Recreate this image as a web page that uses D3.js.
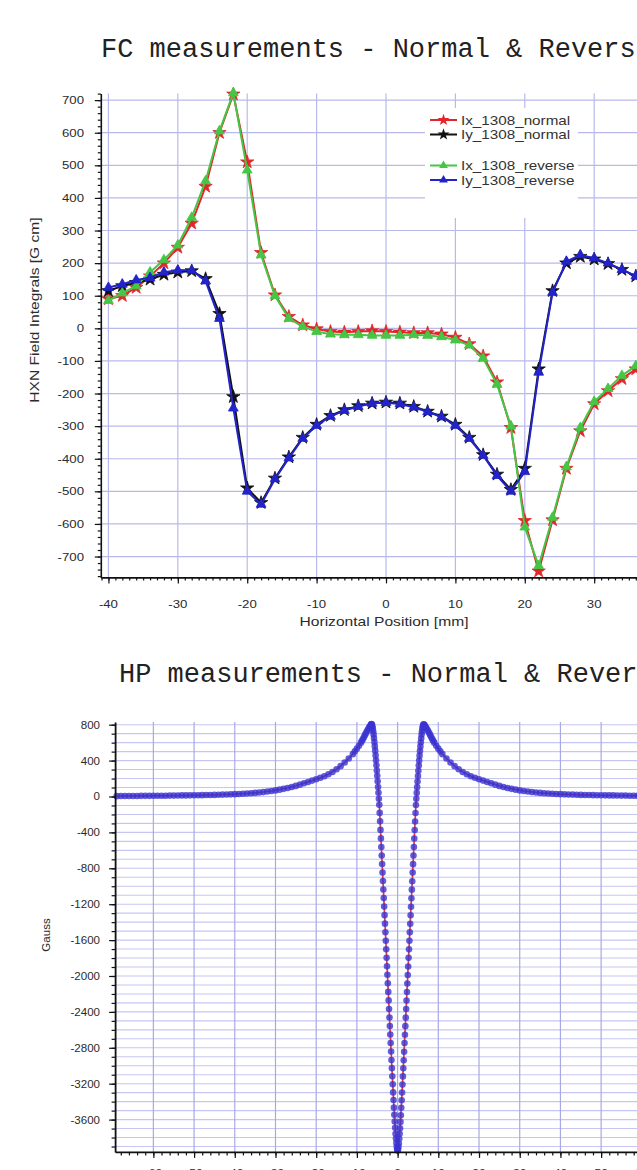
<!DOCTYPE html>
<html><head><meta charset="utf-8">
<script src="https://cdn.jsdelivr.net/npm/d3@7"></script>
<style>html,body{margin:0;padding:0;background:#fff;overflow:hidden}svg{display:block}</style>
</head><body>
<svg id="c" width="637" height="1170"></svg>
<script>
// ---------------- FC data ----------------
const fcX = [-40,-38,-36,-34,-32,-30,-28,-26,-24,-22,-20,-18,-16,-14,-12,-10,-8,-6,-4,-2,0,2,4,6,8,10,12,14,16,18,20,22,24,26,28,30,32,34,36,38,40];
const ixNormal  = [90,100,125,160,200,248,322,435,600,718,510,232,102,36,10,-2,-10,-12,-10,-8,-10,-12,-14,-14,-18,-28,-48,-85,-165,-305,-590,-745,-588,-430,-315,-232,-192,-155,-125,-103,-88];
const iyNormal  = [115,130,140,150,165,172,176,152,45,-210,-490,-535,-460,-395,-335,-295,-268,-250,-238,-230,-227,-230,-240,-255,-270,-295,-335,-388,-448,-495,-430,-125,115,200,220,212,198,180,160,148,135];
const ixReverse = [85,108,130,172,210,255,340,452,605,722,485,225,100,30,5,-10,-18,-20,-20,-22,-22,-22,-20,-22,-26,-36,-52,-92,-172,-300,-610,-728,-580,-425,-305,-225,-185,-145,-115,-96,-82];
const iyReverse = [125,135,148,155,172,178,178,145,30,-245,-500,-540,-462,-398,-338,-298,-270,-252,-240,-230,-228,-232,-242,-256,-272,-298,-338,-390,-452,-500,-440,-135,110,205,225,215,200,180,160,150,140];
const fcNames = ["Ix_1308_normal","Iy_1308_normal","Ix_1308_reverse","Iy_1308_reverse"];
const fcXTicks = [-40,-30,-20,-10,0,10,20,30,40];
const fcYTicks = [700,600,500,400,300,200,100,0,-100,-200,-300,-400,-500,-600,-700];

// ---------------- HP data ----------------
const hpX = [
-69,-68,-67,-66,-65,-64,-63,-62,-61,-60,-59,-58,-57,-56,-55,-54,-53,-52,-51,-50,
-49,-48,-47,-46,-45,-44,-43,-42,-41,-40,-39,-38,-37,-36,-35,-34,-33,-32,-31,-30,
-29,-28,-27,-26,-25,-24,-23,-22,-21,-20,-19,-18,-17,-16,-15,-14,-13,-12,-11,
-10.5,-10,-9.5,-9,-8.75,-8.5,-8.25,-8,-7.75,-7.5,-7.25,-7,-6.8,-6.6,
-6.5,-6.4,-6.3,-6.2,-6.1,-6,-5.9,-5.8,-5.7,-5.6,-5.5,-5.4,-5.3,-5.2,-5.1,-5,-4.9,-4.8,-4.7,-4.6,
-4.5,-4.4,-4.3,-4.2,-4.1,-4,-3.9,-3.8,-3.7,-3.6,-3.5,-3.4,-3.3,-3.2,-3.1,-3,-2.9,-2.8,-2.7,-2.6,
-2.5,-2.4,-2.3,-2.2,-2.1,-2,-1.9,-1.8,-1.7,-1.6,-1.5,-1.4,-1.3,-1.2,-1.1,-1,-0.9,-0.8,-0.7,-0.6,
-0.5,-0.4,-0.3,-0.2,-0.1,0,
0.1,0.2,0.3,0.4,0.5,0.6,0.7,0.8,0.9,1,1.1,1.2,1.3,1.4,1.5,1.6,1.7,1.8,1.9,2,
2.1,2.2,2.3,2.4,2.5,2.6,2.7,2.8,2.9,3,3.1,3.2,3.3,3.4,3.5,3.6,3.7,3.8,3.9,4,
4.1,4.2,4.3,4.4,4.5,4.6,4.7,4.8,4.9,5,5.1,5.2,5.3,5.4,5.5,5.6,5.7,5.8,5.9,6,
6.1,6.2,6.3,6.4,6.5,
6.6,6.8,7,7.25,7.5,7.75,8,8.25,8.5,8.75,9,9.5,10,10.5,
11,12,13,14,15,16,17,18,19,20,21,22,23,24,25,26,27,28,29,30,
31,32,33,34,35,36,37,38,39,40,41,42,43,44,45,46,47,48,49,50,
51,52,53,54,55,56,57,58,59,60,61,62,63,64,65,66,67,68,69];
const hpNormal = [
5,5,6,6,6,7,7,7,8,8,9,9,10,10,11,11,12,13,13,14,
15,16,17,18,19,20,22,23,25,27,29,31,34,37,41,45,50,56,62,70,
78,87,97,108,120,134,149,163,178,193,209,227,249,275,305,340,380,425,475,
505,535,567,602,622,643,665,688,710,732,752,770,784,796,
805,808,800,785,760,730,695,655,610,565,515,462,408,352,295,236,175,112,48,-18,
-86,-176,-270,-365,-460,-555,-650,-745,-840,-935,-1030,-1118,-1220,-1322,-1410,-1505,-1594,-1695,-1790,-1885,
-1980,-2081,-2170,-2265,-2352,-2455,-2550,-2645,-2747,-2835,-2930,-3026,-3110,-3200,-3290,-3375,-3460,-3540,-3615,-3685,
-3750,-3805,-3855,-3895,-3925,-3940,
-3928,-3900,-3860,-3808,-3752,-3690,-3620,-3545,-3462,-3378,-3292,-3204,-3113,-3022,-2932,-2838,-2742,-2648,-2553,-2458,
-2362,-2268,-2172,-2078,-1983,-1888,-1792,-1697,-1602,-1508,-1412,-1318,-1222,-1128,-1032,-938,-842,-748,-652,-558,
-462,-368,-272,-178,-88,-20,46,110,173,234,293,350,406,460,513,563,608,653,693,728,
758,783,799,806,804,
796,784,770,752,732,710,688,665,643,622,602,567,535,505,
475,425,380,340,305,275,249,227,209,193,178,163,149,134,120,108,97,87,78,70,
62,56,50,45,41,37,34,31,29,27,25,23,22,20,19,18,17,16,15,14,
13,13,12,11,11,10,10,9,9,8,8,7,7,7,6,6,6,5,5];
const hpReverse = [
4,5,5,6,6,6,7,7,7,8,8,9,9,10,10,11,12,12,13,14,
14,15,16,17,18,20,21,23,24,26,28,31,33,36,40,44,49,55,61,68,
76,85,95,106,118,132,147,162,177,192,208,226,247,273,303,338,378,423,472,
503,533,565,600,620,641,663,686,708,730,750,768,782,794,
803,806,799,783,758,727,692,652,607,561,511,458,403,347,290,230,169,106,42,-25,
-93,-183,-277,-372,-467,-562,-657,-752,-847,-942,-1037,-1132,-1227,-1322,-1417,-1512,-1607,-1702,-1797,-1892,
-1987,-2082,-2177,-2272,-2367,-2462,-2557,-2652,-2747,-2842,-2937,-3027,-3117,-3207,-3297,-3382,-3467,-3547,-3622,-3692,
-3757,-3812,-3862,-3902,-3932,-3945,
-3935,-3906,-3866,-3814,-3758,-3696,-3626,-3551,-3468,-3384,-3298,-3210,-3119,-3028,-2938,-2844,-2748,-2654,-2559,-2464,
-2368,-2274,-2178,-2084,-1989,-1894,-1798,-1703,-1608,-1514,-1418,-1324,-1228,-1134,-1038,-944,-848,-754,-658,-564,
-468,-374,-278,-184,-94,-26,40,104,167,228,287,344,400,455,508,558,604,649,690,725,
756,781,797,804,802,
794,782,768,750,730,708,686,663,641,620,600,565,533,503,
472,423,378,338,303,273,247,226,208,192,177,162,147,132,118,106,95,85,76,68,
61,55,49,44,40,36,33,31,28,26,24,23,21,20,18,17,16,15,14,14,
13,12,12,11,10,10,9,9,8,8,7,7,7,6,6,6,5,5,4];
const hpXTicks = [-60,-50,-40,-30,-20,-10,0,10,20,30,40,50,60];
const hpYTicks = [800,400,0,-400,-800,-1200,-1600,-2000,-2400,-2800,-3200,-3600];

// ---------------- drawing ----------------
const SANS = "'Liberation Sans', Arial, sans-serif";
const MONO = "'Liberation Mono', 'Courier New', monospace";
const W = 637;
const svg = d3.select('#c');

function txt(parent, data, fx, fy, ftext, o) {
  return parent.append('g').selectAll('text').data(data).join('text')
    .attr('transform', (d, i) => `translate(${fx(d, i)},${fy(d, i)})` + (o.rot ? ` rotate(${o.rot})` : '') + ` scale(${o.sx || 1},1)`)
    .attr('text-anchor', o.anchor || 'start')
    .attr('font-family', o.font || SANS)
    .attr('font-size', o.size)
    .attr('fill', o.fill || '#2b2b2b')
    .text(ftext);
}
function styleAxis(g, w) {
  g.select('.domain').attr('stroke', '#111').attr('stroke-width', w || 1.6);
  g.selectAll('.tick line').attr('stroke', '#111').attr('stroke-width', 1.2);
}

// ===== FC chart =====
const fx = d3.scaleLinear().domain([-41.1, 41.1]).range([100.8, 671.2]);
const fy = d3.scaleLinear().domain([-764, 720]).range([577.4, 93.6]);

txt(svg, ["FC measurements - Normal & Reverse"], () => 101, () => 57, d => d, {font: MONO, size: 27, fill: '#222'});

const fg = svg.append('g');
fg.selectAll('line.v').data(fcXTicks).join('line')
  .attr('x1', d => fx(d)).attr('x2', d => fx(d)).attr('y1', fy.range()[1]).attr('y2', fy.range()[0])
  .attr('stroke', '#b9b9ec').attr('stroke-width', 1.2);
fg.selectAll('line.h').data(fcYTicks).join('line')
  .attr('x1', fx.range()[0]).attr('x2', W).attr('y1', d => fy(d)).attr('y2', d => fy(d))
  .attr('stroke', '#b9b9ec').attr('stroke-width', 1.2);

const fcSeries = [
  {name: fcNames[0], vals: ixNormal,  color: '#e3262b', sym: d3.symbolStar, size: 55},
  {name: fcNames[1], vals: iyNormal,  color: '#111111', sym: d3.symbolStar, size: 55},
  {name: fcNames[2], vals: ixReverse, color: '#45c645', sym: d3.symbolTriangle, size: 42},
  {name: fcNames[3], vals: iyReverse, color: '#2323cc', sym: d3.symbolTriangle, size: 42}
];
const fLine = d3.line().x((d, i) => fx(fcX[i])).y(d => fy(d));
fcSeries.forEach(s => {
  const g = svg.append('g');
  g.append('path').attr('d', fLine(s.vals)).attr('fill', 'none').attr('stroke', s.color).attr('stroke-width', 2);
  g.selectAll('path.m').data(s.vals).join('path').attr('class', 'm')
    .attr('transform', (d, i) => `translate(${fx(fcX[i])},${fy(d)})`)
    .attr('d', d3.symbol().type(s.sym).size(s.size))
    .attr('fill', s.color).attr('stroke', s.color).attr('stroke-width', 0.8);
});

// legend
const lg = svg.append('g');
lg.append('rect').attr('x', 425).attr('y', 108).attr('width', 153).attr('height', 110).attr('fill', '#fff');
const ly = i => 120 + i * 14.5 + (i >= 2 ? 16.5 : 0);
fcSeries.forEach((s, i) => {
  lg.append('line').attr('x1', 430).attr('x2', 457).attr('y1', ly(i)).attr('y2', ly(i)).attr('stroke', s.color).attr('stroke-width', 2);
  lg.append('path').attr('transform', `translate(443.5,${ly(i)})`).attr('d', d3.symbol().type(s.sym).size(s.size * 0.8)).attr('fill', s.color);
});
txt(lg, fcSeries, () => 461, (d, i) => ly(i) + 4.5, d => d.name, {size: 12, sx: 1.27, fill: '#333'});

// axes
const fyAxisG = svg.append('g').attr('transform', `translate(${fx.range()[0]},0)`)
  .call(d3.axisLeft(fy).tickValues(fcYTicks).tickSize(6).tickSizeOuter(0).tickFormat(''));
styleAxis(fyAxisG);
const fyMinor = svg.append('g').attr('transform', `translate(${fx.range()[0]},0)`)
  .call(d3.axisLeft(fy).tickValues(d3.range(-760, 721, 20)).tickSize(3).tickFormat(''));
fyMinor.select('.domain').remove(); styleAxis(fyMinor);
const fxAxisG = svg.append('g').attr('transform', `translate(0,${fy.range()[0]})`)
  .call(d3.axisBottom(fx).tickValues(fcXTicks).tickSize(6).tickSizeOuter(0).tickFormat(''));
styleAxis(fxAxisG);
const fxMinor = svg.append('g').attr('transform', `translate(0,${fy.range()[0]})`)
  .call(d3.axisBottom(fx).tickValues(d3.range(-41, 42, 1)).tickSize(3).tickFormat(''));
fxMinor.select('.domain').remove(); styleAxis(fxMinor);

txt(svg, fcYTicks, () => 84, d => fy(d) + 4, d => String(d), {size: 11, sx: 1.2, anchor: 'end'});
txt(svg, fcXTicks.filter(d => fx(d) + 8 < W), d => fx(d), () => 608, d => String(d), {size: 11, sx: 1.2, anchor: 'middle'});
txt(svg, ["Horizontal Position [mm]"], () => 384, () => 626, d => d, {size: 12, sx: 1.3, anchor: 'middle'});
txt(svg, ["HXN Field Integrals [G cm]"], () => 39, () => 310, d => d, {size: 12, sx: 1.3, anchor: 'middle', rot: -90});

// ===== HP chart =====
const hx = d3.scaleLinear().domain([-69.4, 69.4]).range([115.1, 680.1]);
const hy = d3.scaleLinear().domain([-3960, 830]).range([1151.9, 722]);

txt(svg, ["HP measurements - Normal & Reverse"], () => 119, () => 682, d => d, {font: MONO, size: 27, fill: '#222'});

const hg = svg.append('g');
hg.selectAll('line.h').data(d3.range(-3900, 801, 100)).join('line')
  .attr('x1', hx.range()[0]).attr('x2', W).attr('y1', d => hy(d)).attr('y2', d => hy(d))
  .attr('stroke', '#c6c6f2').attr('stroke-width', 1.1);
hg.selectAll('line.v').data(hpXTicks).join('line')
  .attr('x1', d => hx(d)).attr('x2', d => hx(d)).attr('y1', hy.range()[1]).attr('y2', hy.range()[0])
  .attr('stroke', '#a9a9e6').attr('stroke-width', 1.2);

const hLineN = d3.line().x((d, i) => hx(hpX[i])).y(d => hy(d));
svg.append('path').attr('d', hLineN(hpNormal)).attr('fill', 'none').attr('stroke', '#e23a3a').attr('stroke-width', 1.7);
svg.append('g').selectAll('circle').data(hpReverse).join('circle')
  .attr('cx', (d, i) => hx(hpX[i])).attr('cy', d => hy(d)).attr('r', 3.3)
  .attr('fill', '#3a33d2').attr('fill-opacity', 0.8);

const hyAxisG = svg.append('g').attr('transform', `translate(${hx.range()[0]},0)`)
  .call(d3.axisLeft(hy).tickValues(hpYTicks).tickSize(6).tickSizeOuter(0).tickFormat(''));
styleAxis(hyAxisG, 1.8);
const hyMinor = svg.append('g').attr('transform', `translate(${hx.range()[0]},0)`)
  .call(d3.axisLeft(hy).tickValues(d3.range(-3900, 801, 100)).tickSize(3.5).tickFormat(''));
hyMinor.select('.domain').remove(); styleAxis(hyMinor);
const hxAxisG = svg.append('g').attr('transform', `translate(0,${hy.range()[0]})`)
  .call(d3.axisBottom(hx).tickValues(hpXTicks).tickSize(6).tickSizeOuter(0).tickFormat(''));
styleAxis(hxAxisG, 1.8);
const hxMinor = svg.append('g').attr('transform', `translate(0,${hy.range()[0]})`)
  .call(d3.axisBottom(hx).tickValues(d3.range(-68, 69, 2)).tickSize(3.5).tickFormat(''));
hxMinor.select('.domain').remove(); styleAxis(hxMinor);

txt(svg, hpYTicks, () => 100, d => hy(d) + 4, d => String(d), {size: 10.5, sx: 1.1, anchor: 'end'});
txt(svg, hpXTicks, d => hx(d), () => 1177, d => String(d), {size: 11, sx: 1.1, anchor: 'middle'});
txt(svg, ["Gauss"], () => 50, () => 935, d => d, {size: 10.5, sx: 1.1, anchor: 'middle', rot: -90});
</script>
</body></html>
